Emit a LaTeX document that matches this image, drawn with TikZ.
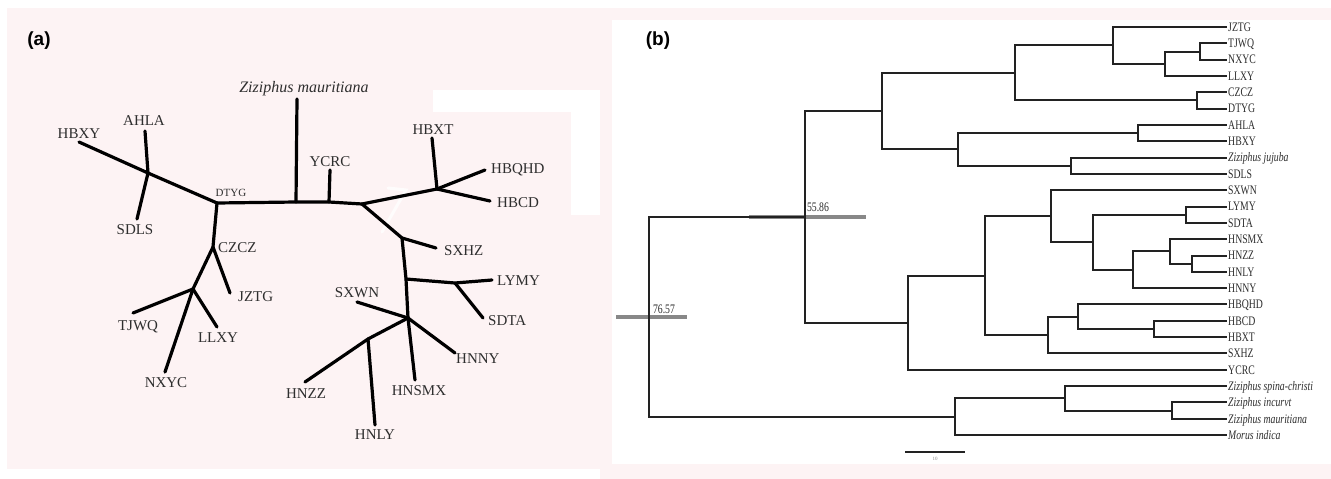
\documentclass[tikz,border=0pt]{standalone}
\usepackage{fontspec}
\usepackage{graphicx}
\setmainfont{Liberation Serif}
\newfontfamily\panelfont{Liberation Sans}
\definecolor{pinkbg}{HTML}{FDF3F4}
\definecolor{txtcol}{HTML}{2E2E2E}
\definecolor{treecol}{HTML}{222222}
\definecolor{barcol}{HTML}{888888}
\newcommand{\narrowtxt}[1]{\scalebox{0.75}[1]{#1}}
\begin{document}
\begin{tikzpicture}[x=1pt,y=-1pt,
  ltree/.style={line width=3.2pt, line cap=round, line join=round, black},
  llab/.style={font=\fontsize{15}{15}\selectfont, text=txtcol, inner sep=0pt, text height=10pt, text depth=0pt},
  rtree/.style={line width=2pt, treecol},
  leaf/.style={font=\fontsize{13}{13}\selectfont, text=txtcol, anchor=west, inner sep=1pt, text height=8.6pt, text depth=0pt},
  hpd/.style={line width=4pt, barcol},
  panel/.style={font=\panelfont\bfseries\fontsize{19}{19}\selectfont, inner sep=0pt}]
\useasboundingbox (0,0) rectangle (1331,479);
% backgrounds
\fill[white] (0,0) rectangle (1331,479);
\fill[pinkbg] (7,8) rectangle (605,469);
\fill[pinkbg] (600,8) rectangle (1331,479);
\fill[white] (612,20) rectangle (1331,464);
\fill[white] (433,90) rectangle (600,112);
\fill[white] (571,112) rectangle (600,215);
\draw[white, line width=3pt, opacity=0.8, line cap=round] (388,188) -- (406,190) -- (382,232);

\node[panel] (pa) at (39,41) {(a)};
\node[panel] (pb) at (658,41) {(b)};

% ---------------- panel (a): unrooted tree ----------------
\coordinate (zmTop) at (297,99);
\coordinate (zmBase) at (296,202);
\coordinate (dtyg) at (217,203);
\coordinate (hbxyJ) at (148,173);
\coordinate (hbxyE) at (79,142);
\coordinate (ahlaE) at (145,131);
\coordinate (sdlsE) at (137,219);
\coordinate (ycrcB) at (329,202);
\coordinate (ycrcE) at (330,170);
\coordinate (j1) at (362,204);
\coordinate (hbxtJ) at (437,189);
\coordinate (hbxtE) at (432,138);
\coordinate (hbqhdE) at (485,170);
\coordinate (hbcdE) at (490,201);
\coordinate (sxhzJ) at (402,238);
\coordinate (sxhzE) at (436,248);
\coordinate (lymyB) at (406,279);
\coordinate (lsJ) at (455,283);
\coordinate (lymyE) at (492,280);
\coordinate (sdtaE) at (483,318);
\coordinate (mJ) at (408,318);
\coordinate (sxwnE) at (357,302);
\coordinate (hnnyE) at (455,353);
\coordinate (hnsmxE) at (415,380);
\coordinate (hnzzJ) at (368,339);
\coordinate (hnzzE) at (305,382);
\coordinate (hnlyE) at (375,425);
\coordinate (czczJ) at (213,247);
\coordinate (jztgE) at (230,293);
\coordinate (tjwqJ) at (193,289);
\coordinate (tjwqE) at (133,313);
\coordinate (llxyE) at (217,327);
\coordinate (nxycE) at (165,372);

\draw[ltree] (hbxyE) -- (hbxyJ) -- (dtyg);
\draw[ltree] (ahlaE) -- (hbxyJ) -- (sdlsE);
\draw[ltree] (dtyg) -- (zmBase) -- (ycrcB) -- (j1);
\draw[ltree] (zmBase) -- (zmTop);
\draw[ltree] (ycrcB) -- (ycrcE);
\draw[ltree] (j1) -- (hbxtJ);
\draw[ltree] (hbxtJ) -- (hbxtE);
\draw[ltree] (hbxtJ) -- (hbqhdE);
\draw[ltree] (hbxtJ) -- (hbcdE);
\draw[ltree] (j1) -- (sxhzJ) -- (lymyB) -- (mJ);
\draw[ltree] (sxhzJ) -- (sxhzE);
\draw[ltree] (lymyB) -- (lsJ) -- (lymyE);
\draw[ltree] (lsJ) -- (sdtaE);
\draw[ltree] (mJ) -- (sxwnE);
\draw[ltree] (mJ) -- (hnnyE);
\draw[ltree] (mJ) -- (hnsmxE);
\draw[ltree] (mJ) -- (hnzzJ) -- (hnzzE);
\draw[ltree] (hnzzJ) -- (hnlyE);
\draw[ltree] (dtyg) -- (czczJ) -- (tjwqJ) -- (nxycE);
\draw[ltree] (czczJ) -- (jztgE);
\draw[ltree] (tjwqJ) -- (tjwqE);
\draw[ltree] (tjwqJ) -- (llxyE);

\node[llab] (tHBXY) at (79,133) {HBXY};
\node[llab] (tAHLA) at (144,120) {AHLA};
\node[llab] (tSDLS) at (135,229) {SDLS};
\node[llab, font=\fontsize{11}{11}\selectfont, text height=7.3pt] (tDTYG) at (231,193) {DTYG};
\node[llab, font=\itshape\fontsize{16}{16}\selectfont, text height=10.6pt] (tZM) at (304,87) {Ziziphus mauritiana};
\node[llab] (tYCRC) at (330,161) {YCRC};
\node[llab] (tHBXT) at (433,129) {HBXT};
\node[llab, anchor=west] (tHBQHD) at (491,168) {HBQHD};
\node[llab, anchor=west] (tHBCD) at (497,202) {HBCD};
\node[llab, anchor=west] (tSXHZ) at (444,250) {SXHZ};
\node[llab, anchor=west] (tLYMY) at (497,280) {LYMY};
\node[llab, anchor=west] (tSDTA) at (488,320) {SDTA};
\node[llab] (tSXWN) at (357,292) {SXWN};
\node[llab, anchor=west] (tHNNY) at (456,358) {HNNY};
\node[llab] (tHNSMX) at (419,390) {HNSMX};
\node[llab] (tHNZZ) at (306,393) {HNZZ};
\node[llab] (tHNLY) at (375,434) {HNLY};
\node[llab, anchor=west] (tCZCZ) at (218,247) {CZCZ};
\node[llab, anchor=west] (tJZTG) at (238,296) {JZTG};
\node[llab] (tTJWQ) at (138,325) {TJWQ};
\node[llab] (tLLXY) at (218,337) {LLXY};
\node[llab] (tNXYC) at (166,382) {NXYC};

% ---------------- panel (b): time tree ----------------
% HPD bars
\coordinate (b1a) at (749,217);
\coordinate (b1b) at (866,217);
\coordinate (b2a) at (616,317);
\coordinate (b2b) at (687,317);
\draw[hpd] (b1a) -- (b1b);
\draw[hpd] (b2a) -- (b2b);
\node[leaf, anchor=center] (age1) at (818,207) {\narrowtxt{55.86}};
\node[leaf, anchor=center] (age2) at (664,309) {\narrowtxt{76.57}};

% leaves
\node[leaf] (L0) at (1227,27.0) {\narrowtxt{JZTG}};
\node[leaf] (L1) at (1227,43.3) {\narrowtxt{TJWQ}};
\node[leaf] (L2) at (1227,59.6) {\narrowtxt{NXYC}};
\node[leaf] (L3) at (1227,76.0) {\narrowtxt{LLXY}};
\node[leaf] (L4) at (1227,92.3) {\narrowtxt{CZCZ}};
\node[leaf] (L5) at (1227,108.6) {\narrowtxt{DTYG}};
\node[leaf] (L6) at (1227,124.9) {\narrowtxt{AHLA}};
\node[leaf] (L7) at (1227,141.2) {\narrowtxt{HBXY}};
\node[leaf] (L8) at (1227,157.6) {\narrowtxt{\itshape Ziziphus jujuba}};
\node[leaf] (L9) at (1227,173.9) {\narrowtxt{SDLS}};
\node[leaf] (L10) at (1227,190.2) {\narrowtxt{SXWN}};
\node[leaf] (L11) at (1227,206.5) {\narrowtxt{LYMY}};
\node[leaf] (L12) at (1227,222.8) {\narrowtxt{SDTA}};
\node[leaf] (L13) at (1227,239.2) {\narrowtxt{HNSMX}};
\node[leaf] (L14) at (1227,255.5) {\narrowtxt{HNZZ}};
\node[leaf] (L15) at (1227,271.8) {\narrowtxt{HNLY}};
\node[leaf] (L16) at (1227,288.1) {\narrowtxt{HNNY}};
\node[leaf] (L17) at (1227,304.4) {\narrowtxt{HBQHD}};
\node[leaf] (L18) at (1227,320.8) {\narrowtxt{HBCD}};
\node[leaf] (L19) at (1227,337.1) {\narrowtxt{HBXT}};
\node[leaf] (L20) at (1227,353.4) {\narrowtxt{SXHZ}};
\node[leaf] (L21) at (1227,369.7) {\narrowtxt{YCRC}};
\node[leaf] (L22) at (1227,386.0) {\narrowtxt{\itshape Ziziphus spina-christi}};
\node[leaf] (L23) at (1227,402.4) {\narrowtxt{\itshape Ziziphus incurvt}};
\node[leaf] (L24) at (1227,418.7) {\narrowtxt{\itshape Ziziphus mauritiana}};
\node[leaf] (L25) at (1227,435.0) {\narrowtxt{\itshape Morus indica}};

% internal nodes
\coordinate (r) at (649,316.8);
\coordinate (n805) at (805,216.9);
\coordinate (n955) at (955,416.6);
\coordinate (n882) at (882,111.1);
\coordinate (n908) at (908,322.7);
\coordinate (n1015) at (1015,72.9);
\coordinate (n958) at (958,149.4);
\coordinate (n1113) at (1113,45.4);
\coordinate (n1197) at (1197,100.4);
\coordinate (n1165) at (1165,63.8);
\coordinate (n1200) at (1200,51.5);
\coordinate (n1138) at (1138,133.0);
\coordinate (n1071) at (1071,165.7);
\coordinate (n985) at (985,275.6);
\coordinate (n1051) at (1051,216.2);
\coordinate (n1093) at (1093,242.2);
\coordinate (n1186) at (1186,214.7);
\coordinate (n1133) at (1133,269.8);
\coordinate (n1170) at (1170,251.4);
\coordinate (n1192) at (1192,263.6);
\coordinate (n1048) at (1048,335.0);
\coordinate (n1078) at (1078,316.7);
\coordinate (n1154) at (1154,328.9);
\coordinate (n1065) at (1065,398.3);
\coordinate (n1172) at (1172,410.5);

\draw[rtree] (r) |- (n805);   \draw[rtree] (r) |- (n955);
\draw[rtree] (n805) |- (n882); \draw[rtree] (n805) |- (n908);
\draw[rtree] (n882) |- (n1015); \draw[rtree] (n882) |- (n958);
\draw[rtree] (n1015) |- (n1113); \draw[rtree] (n1015) |- (n1197);
\draw[rtree] (n1113) |- (L0.west); \draw[rtree] (n1113) |- (n1165);
\draw[rtree] (n1165) |- (n1200); \draw[rtree] (n1165) |- (L3.west);
\draw[rtree] (n1200) |- (L1.west); \draw[rtree] (n1200) |- (L2.west);
\draw[rtree] (n1197) |- (L4.west); \draw[rtree] (n1197) |- (L5.west);
\draw[rtree] (n958) |- (n1138); \draw[rtree] (n958) |- (n1071);
\draw[rtree] (n1138) |- (L6.west); \draw[rtree] (n1138) |- (L7.west);
\draw[rtree] (n1071) |- (L8.west); \draw[rtree] (n1071) |- (L9.west);
\draw[rtree] (n908) |- (n985); \draw[rtree] (n908) |- (L21.west);
\draw[rtree] (n985) |- (n1051); \draw[rtree] (n985) |- (n1048);
\draw[rtree] (n1051) |- (L10.west); \draw[rtree] (n1051) |- (n1093);
\draw[rtree] (n1093) |- (n1186); \draw[rtree] (n1093) |- (n1133);
\draw[rtree] (n1186) |- (L11.west); \draw[rtree] (n1186) |- (L12.west);
\draw[rtree] (n1133) |- (n1170); \draw[rtree] (n1133) |- (L16.west);
\draw[rtree] (n1170) |- (L13.west); \draw[rtree] (n1170) |- (n1192);
\draw[rtree] (n1192) |- (L14.west); \draw[rtree] (n1192) |- (L15.west);
\draw[rtree] (n1048) |- (n1078); \draw[rtree] (n1048) |- (L20.west);
\draw[rtree] (n1078) |- (L17.west); \draw[rtree] (n1078) |- (n1154);
\draw[rtree] (n1154) |- (L18.west); \draw[rtree] (n1154) |- (L19.west);
\draw[rtree] (n955) |- (n1065); \draw[rtree] (n955) |- (L25.west);
\draw[rtree] (n1065) |- (L22.west); \draw[rtree] (n1065) |- (n1172);
\draw[rtree] (n1172) |- (L23.west); \draw[rtree] (n1172) |- (L24.west);

% scale bar
\coordinate (sbA) at (905,452);
\coordinate (sbB) at (965,452);
\draw[rtree] (sbA) -- (sbB);
\node[font=\fontsize{5}{5}\selectfont, text=barcol, inner sep=0pt] (sbl) at (935,459) {10};
\end{tikzpicture}
\end{document}
